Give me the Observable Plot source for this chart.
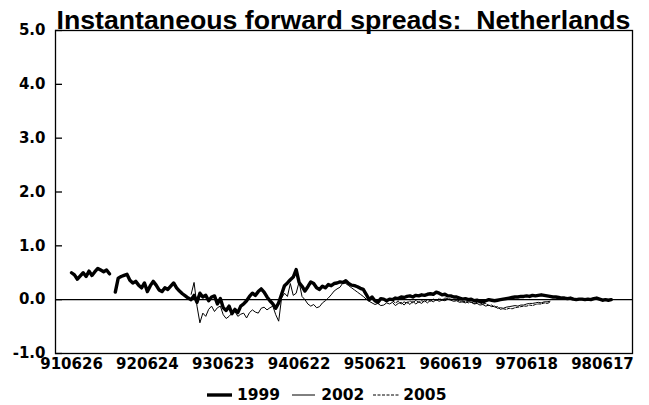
<!DOCTYPE html>
<html>
<head>
<meta charset="utf-8">
<script src="https://cdn.jsdelivr.net/npm/d3@7"></script>
<script src="https://cdn.jsdelivr.net/npm/@observablehq/plot@0.6"></script>
<style>
  body { margin: 0; background: #fff; }
  #wrap { position: relative; width: 649px; height: 405px; }
  #title {
    position: absolute; left: 44px; top: 7px; width: 599px;
    text-align: center; white-space: pre; color: #000;
    font: bold 26.7px/27px "Liberation Sans", Arial, sans-serif;
  }
  #legend {
    position: absolute; left: 207px; top: 386px; height: 18px;
    display: flex; align-items: center; white-space: nowrap; color: #000;
    font: bold 15.5px/18px "DejaVu Sans", sans-serif;
  }
  #legend svg { display: block; }
</style>
</head>
<body>
<div id="wrap">
  <div id="chart"></div>
  <div id="title">Instantaneous forward spreads:  Netherlands</div>
  <div id="legend"></div>
</div>
<script>
// Spreads in percentage points, one observation every 14 days.
const stepDays = 14;

const series = ["1999", "2002", "2005"];
const firstObs = ["1991-06-26", "1993-01-20", "1995-09-13"];

const spread1999 = [
  0.50, 0.46, 0.38, 0.44, 0.50, 0.43, 0.53, 0.45, 0.52, 0.58,
  0.55, 0.52, 0.55, 0.48, null, 0.14, 0.40, 0.43, 0.45, 0.47,
  0.36, 0.31, 0.34, 0.27, 0.22, 0.31, 0.15, 0.26, 0.34, 0.27,
  0.18, 0.15, 0.22, 0.19, 0.25, 0.31, 0.22, 0.16, 0.11, 0.07,
  0.03, 0.00, 0.08, -0.05, 0.12, 0.05, 0.08, -0.02, 0.05, 0.07,
  -0.08, 0.02, -0.15, -0.20, -0.12, -0.26, -0.18, -0.24, -0.12, -0.08,
  -0.02, 0.06, 0.12, 0.08, 0.15, 0.20, 0.14, 0.05, -0.02, -0.08,
  -0.16, -0.06, 0.10, 0.26, 0.31, 0.37, 0.42, 0.56, 0.32, 0.25,
  0.16, 0.24, 0.33, 0.30, 0.22, 0.19, 0.25, 0.22, 0.28, 0.26,
  0.30, 0.31, 0.33, 0.32, 0.35, 0.30, 0.27, 0.26, 0.24, 0.21,
  0.19, 0.10, 0.00, 0.05, -0.02, -0.05, 0.02, 0.01, -0.02, 0.01,
  0.00, 0.03, 0.02, 0.05, 0.04, 0.06, 0.07, 0.05, 0.08, 0.07,
  0.09, 0.08, 0.10, 0.11, 0.10, 0.14, 0.12, 0.09, 0.10, 0.07,
  0.07, 0.05, 0.05, 0.03, 0.01, 0.02, 0.00, 0.01, -0.02, -0.01,
  -0.03, -0.04, -0.02, 0.00, -0.01, -0.02, -0.01, 0.00, 0.01, 0.02,
  0.03, 0.04, 0.05, 0.05, 0.06, 0.06, 0.07, 0.06, 0.08, 0.07,
  0.08, 0.09, 0.08, 0.07, 0.06, 0.05, 0.05, 0.04, 0.03, 0.03,
  0.02, 0.03, 0.01, 0.00, 0.01, 0.01, 0.00, 0.01, 0.00, 0.02,
  0.03, 0.01, -0.01, 0.00, -0.01, 0.00
];

const spread2002 = [
  0.10, 0.32, -0.12, -0.43, -0.25, -0.31, -0.18, -0.12, -0.22, -0.15,
  -0.12, -0.28, -0.35, -0.31, -0.25, -0.22, -0.31, -0.27, -0.25, -0.34,
  -0.24, -0.19, -0.23, -0.25, -0.16, -0.14, -0.19, -0.15, -0.12, -0.28,
  -0.40, 0.03, 0.12, 0.06, 0.30, 0.08, 0.12, 0.33, 0.06, 0.00,
  -0.08, -0.12, -0.09, -0.15, -0.13, -0.06, -0.02, 0.03, 0.09, 0.16,
  0.20, 0.23, 0.31, 0.30, 0.26, 0.22, 0.18, 0.14, 0.10, 0.06,
  0.01, -0.03, -0.06, -0.09, -0.07, -0.11, -0.10, -0.06, -0.08, -0.05,
  -0.11, -0.07, -0.05, -0.10, -0.04, -0.09, -0.03, -0.08, -0.04, -0.07,
  -0.02, -0.06, -0.01, -0.04, 0.00, -0.03, -0.01, -0.02, 0.01, -0.01,
  -0.03, -0.02, -0.05, -0.04, -0.06, -0.03, -0.05, -0.08, -0.07, -0.10,
  -0.09, -0.12, -0.10, -0.13, -0.12, -0.16, -0.15, -0.16, -0.14, -0.13,
  -0.12, -0.11, -0.12, -0.10, -0.10, -0.08, -0.07, -0.07, -0.06, -0.05,
  -0.06, -0.04, -0.04, -0.03
];

const spread2005 = [
  -0.02, -0.06, -0.03, -0.08, -0.04, -0.07, -0.02, -0.06, -0.01, -0.05,
  -0.02, -0.04, 0.00, -0.03, 0.01, -0.02, 0.02, 0.00, 0.03, 0.02,
  0.01, 0.00, -0.01, -0.02, -0.04, -0.03, -0.06, -0.04, -0.07, -0.05,
  -0.06, -0.08, -0.07, -0.11, -0.10, -0.14, -0.13, -0.18, -0.17, -0.18,
  -0.16, -0.17, -0.15, -0.14, -0.13, -0.12, -0.12, -0.10, -0.11, -0.09,
  -0.08, -0.08, -0.06, -0.07, -0.05
];

// Axis: observation dates shown as yymmdd, spread ticks in percentage points.
const dateLabels = ["910626", "920624", "930623", "940622", "950621", "960619", "970618", "980617"];
const dateRange = ["1991-04-10", "1998-11-08"];
const spreadTicks = [-1, 0, 1, 2, 3, 4, 5];
const spreadRange = [-1, 5];

const parseYmd = d3.utcParse("%y%m%d");
const parseIso = d3.utcParse("%Y-%m-%d");
const fmtYmd = d3.utcFormat("%y%m%d");

function toRows(name, start, values) {
  const t0 = parseIso(start);
  return values.map((v, k) => ({series: name, date: d3.utcDay.offset(t0, k * stepDays), value: v}));
}

const rows1999 = toRows(series[0], firstObs[0], spread1999);
const rows2002 = toRows(series[1], firstObs[1], spread2002);
const rows2005 = toRows(series[2], firstObs[2], spread2005);

const styles = {
  "1999": {strokeWidth: 3.4, dash: null},
  "2002": {strokeWidth: 1, dash: null},
  "2005": {strokeWidth: 1, dash: "3,1.5"}
};

const W = 649, H = 405;
const margin = {left: 55, right: 17, top: 30, bottom: 52};
const tickLen = 7;
const innerWidth = W - margin.left - margin.right;

const chart = Plot.plot({
  width: W,
  height: H,
  marginLeft: margin.left,
  marginRight: margin.right,
  marginTop: margin.top,
  marginBottom: margin.bottom,
  style: {fontFamily: "'DejaVu Sans', sans-serif", fontWeight: "bold", fontSize: "15px", color: "#000", background: "transparent", overflow: "visible"},
  x: {type: "utc", domain: dateRange.map(parseIso)},
  y: {domain: spreadRange},
  marks: [
    Plot.frame({stroke: "#000", strokeWidth: 1.3}),
    Plot.ruleY([0], {stroke: "#000", strokeWidth: 1.3}),
    // short tick marks pointing into the plot area from the left edge
    Plot.ruleY(spreadTicks, {y: d => d, insetRight: innerWidth - tickLen, stroke: "#000", strokeWidth: 1.3}),
    Plot.axisY({ticks: spreadTicks, tickFormat: d => d.toFixed(1), tickSize: 0, tickPadding: 10, label: null}),
    Plot.axisX({ticks: dateLabels.map(parseYmd), tickFormat: fmtYmd, tickSize: 0, tickPadding: 5, label: null}),
    Plot.line(rows2005, {x: "date", y: "value", stroke: "#000", strokeWidth: styles["2005"].strokeWidth, strokeDasharray: styles["2005"].dash}),
    Plot.line(rows2002, {x: "date", y: "value", stroke: "#000", strokeWidth: styles["2002"].strokeWidth}),
    Plot.line(rows1999, {x: "date", y: "value", stroke: "#000", strokeWidth: styles["1999"].strokeWidth, strokeLinejoin: "round"})
  ]
});
document.getElementById("chart").appendChild(chart);

// Legend below the plot
const legend = d3.select("#legend");
const swatchW = [25, 23, 26];
const gapBefore = [0, 12, 9];
const gapAfter = [5, 6, 4];
series.forEach((name, k) => {
  const s = styles[name];
  const sw = legend.append("svg")
    .attr("width", swatchW[k]).attr("height", 8)
    .style("margin-left", gapBefore[k] + "px")
    .style("margin-right", gapAfter[k] + "px")
    .style("margin-top", "-1px");
  sw.append("line")
    .attr("x1", 0).attr("x2", swatchW[k]).attr("y1", 4).attr("y2", 4)
    .attr("stroke", "#000").attr("stroke-width", s.strokeWidth)
    .attr("stroke-dasharray", s.dash);
  legend.append("span").text(name);
});
</script>
</body>
</html>
